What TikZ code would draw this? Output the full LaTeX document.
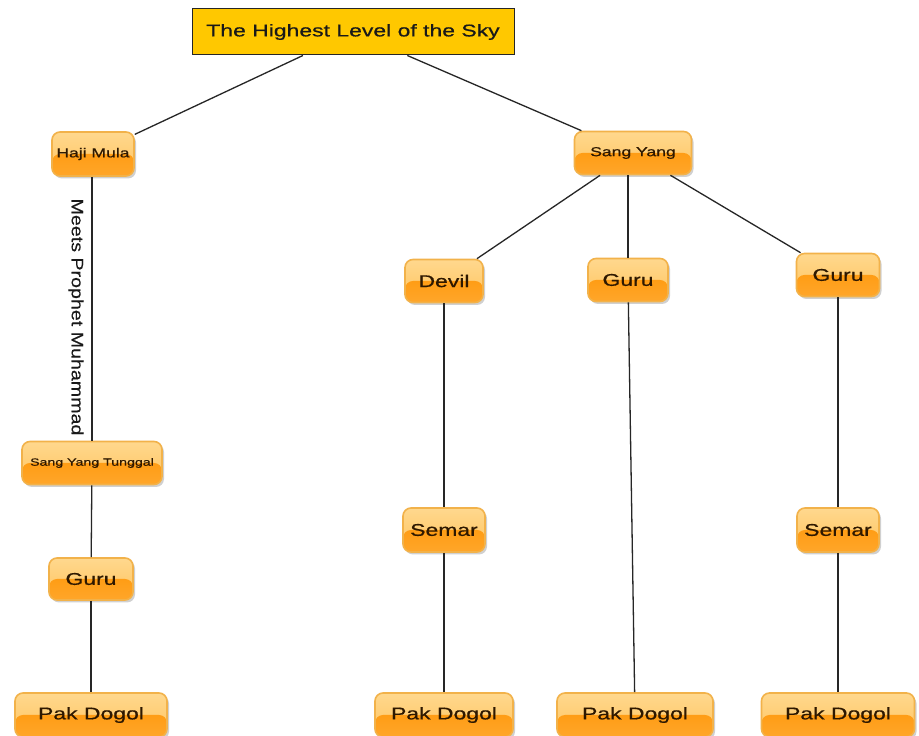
\documentclass[tikz,border=0pt]{standalone}
\usepackage{fontspec}
\setmainfont[FakeStretch=1.35, FakeBold=0.7]{Liberation Sans}
\newfontfamily\lblfont[FakeStretch=1.19, FakeBold=0.3]{Liberation Sans}
\usetikzlibrary{shadows}
\definecolor{boxtop}{HTML}{FFD88E}
\definecolor{boxmid}{HTML}{FFC45E}
\definecolor{boxdark}{HTML}{FF9400}
\definecolor{boxlow}{HTML}{FFA62A}
\definecolor{boxedge}{HTML}{F2B24A}
\definecolor{txt}{HTML}{2E1800}
\definecolor{gold}{HTML}{FFC800}
\definecolor{linec}{HTML}{262626}
\tikzset{
  obox/.style={rounded corners=8pt, draw=boxedge, line width=1.6pt,
    top color=boxtop, bottom color=boxmid, minimum height=43pt, inner sep=2pt,
    text=txt, font=\fontsize{17}{20}\selectfont,
    drop shadow={shadow xshift=2pt, shadow yshift=-2.5pt, opacity=0.3, fill=black!60},
    path picture={\shade[top color=boxdark, bottom color=boxlow]
      ([yshift=0pt]path picture bounding box.west) rectangle (path picture bounding box.south east);}},
  topbox/.style={draw=linec, fill=gold, line width=1pt, minimum width=322pt,
    minimum height=46pt, text=black!90, font=\fontsize{17}{20}\selectfont},
  conn/.style={draw=linec, line width=1.3pt},
  smallfont/.style={font=\fontsize{13}{15}\selectfont},
  tinyfont/.style={font=\fontsize{10.5}{12}\selectfont},
  lbl/.style={rotate=-90, text=black!90, font=\lblfont\fontsize{16.5}{18}\selectfont, inner sep=0pt}
}
\begin{document}
\begin{tikzpicture}[x=1pt,y=1pt]
\useasboundingbox (0,0) rectangle (919,736);
\fill[white] (0,0) rectangle (919,736);
% nodes
\node[topbox] (top) at (353,704) {The Highest Level of the Sky};
\node[obox, smallfont, minimum width=82pt, minimum height=44pt] (haji) at (93,582) {Haji Mula};
\node[obox, smallfont, minimum width=117pt] (sy) at (633,583) {Sang Yang};
\node[obox, minimum width=78pt] (devil) at (444,455) {Devil};
\node[obox, minimum width=80pt] (gm) at (628,456) {Guru};
\node[obox, minimum width=83pt] (gr) at (838,461) {Guru};
\node[obox, tinyfont, minimum width=140pt] (syt) at (92,273) {Sang Yang Tunggal};
\node[obox, minimum width=84pt, minimum height=42pt] (gl) at (91,157) {Guru};
\node[obox, minimum width=82pt, minimum height=44pt] (sl) at (444,206) {Semar};
\node[obox, minimum width=82pt, minimum height=44pt] (sr) at (838,206) {Semar};
\node[obox, minimum width=152pt, minimum height=44pt] (pd1) at (91,21) {Pak Dogol};
\node[obox, minimum width=138pt, minimum height=44pt] (pd2) at (444,21) {Pak Dogol};
\node[obox, minimum width=156pt, minimum height=44pt] (pd3) at (635,21) {Pak Dogol};
\node[obox, minimum width=153pt, minimum height=44pt] (pd4) at (838,21) {Pak Dogol};
\node[lbl] (meets) at (76,419) {Meets Prophet Muhammad};
% connectors
\path[conn] (top) -- (haji);
\path[conn] (top) -- (sy);
\path[conn] (sy) -- (devil);
\path[conn] (sy.south -| gm.north) -- (gm.north);
\path[conn] (sy) -- (gr);
\path[conn] (haji.south -| syt.north) -- (syt.north);
\path[conn] (syt) -- (gl);
\path[conn] (gl) -- (pd1);
\path[conn] (devil) -- (sl);
\path[conn] (sl) -- (pd2);
\path[conn] (gm) -- (pd3);
\path[conn] (gr) -- (sr);
\path[conn] (sr) -- (pd4);
\end{tikzpicture}
\end{document}
